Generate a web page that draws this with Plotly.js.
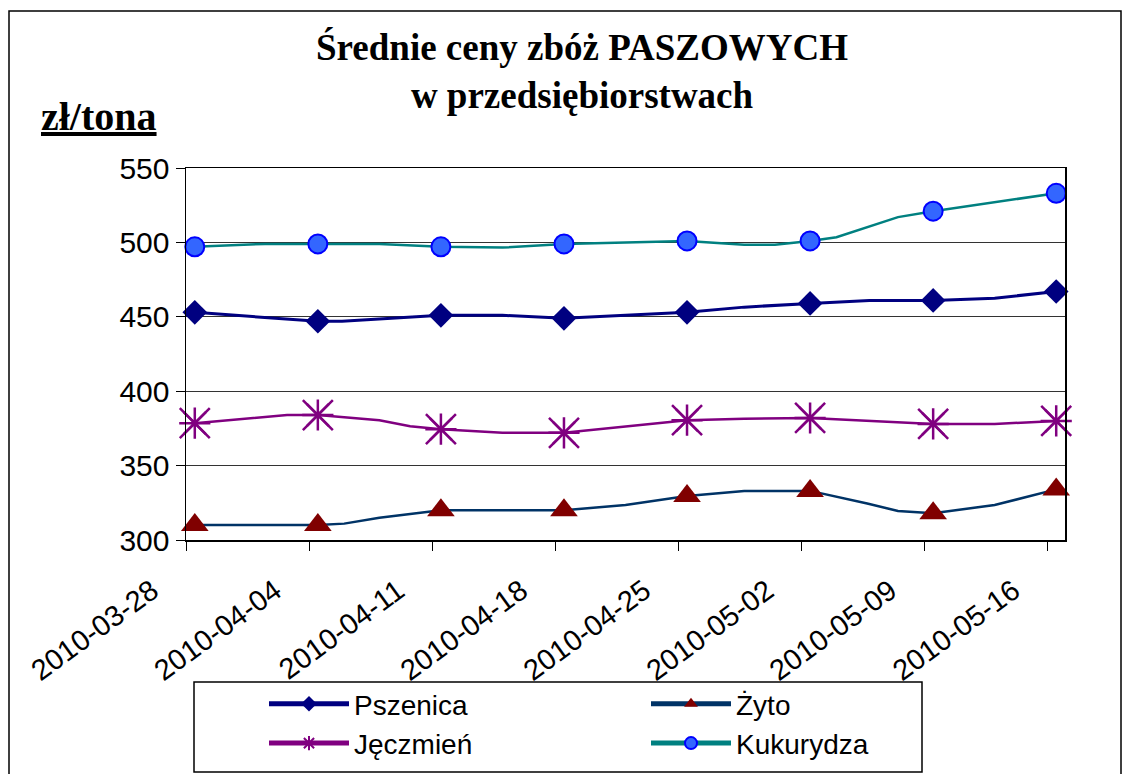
<!DOCTYPE html>
<html>
<head>
<meta charset="utf-8">
<script src="https://cdn.plot.ly/plotly-3.0.1.min.js"></script>
<style>
  html, body { margin: 0; padding: 0; background: #ffffff; }
  #chart { width: 1127px; height: 774px; }
</style>
</head>
<body>
<div id="chart"></div>
<script>
// ---- data ----
const weekDates = ['2010-03-28', '2010-04-04', '2010-04-11', '2010-04-18',
                   '2010-04-25', '2010-05-02', '2010-05-09', '2010-05-16'];
const tickLabels = ['2010-03-28', '2010-04-04', '2010-04-11', '2010-04-18',
                    '2010-04-25', '2010-05-02', '2010-05-09', '2010-05-16'];
const seriesNames = ['Pszenica', 'Żyto', 'Jęczmień', 'Kukurydza'];

const pszenicaDates = ['2010-03-28 12:00', '2010-04-02 18:00', '2010-04-04 12:00', '2010-04-05 21:00',
  '2010-04-11 12:00', '2010-04-15 00:00', '2010-04-18 12:00', '2010-04-25 12:00', '2010-04-28 18:00',
  '2010-05-02 12:00', '2010-05-05 21:00', '2010-05-09 12:00', '2010-05-13 00:00', '2010-05-16 12:00'];
const pszenicaValues = [453, 448.3, 447, 447, 451, 451, 449, 453, 456.5, 459, 461, 461, 462.5, 467];

const zytoDates = ['2010-03-28 12:00', '2010-04-04 12:00', '2010-04-06 00:00', '2010-04-08 00:00',
  '2010-04-11 12:00', '2010-04-18 12:00', '2010-04-22 00:00', '2010-04-25 12:00', '2010-04-28 18:00',
  '2010-05-02 12:00', '2010-05-05 18:00', '2010-05-07 12:00', '2010-05-09 12:00', '2010-05-13 00:00',
  '2010-05-16 12:00'];
const zytoValues = [310, 310, 311, 315, 320, 320, 323.5, 329.5, 333, 333, 324.5, 319.5, 318, 323.5, 334];

const jeczmienDates = ['2010-03-28 12:00', '2010-04-02 18:00', '2010-04-04 12:00', '2010-04-08 00:00',
  '2010-04-09 18:00', '2010-04-11 12:00', '2010-04-15 00:00', '2010-04-18 12:00', '2010-04-25 12:00',
  '2010-04-28 18:00', '2010-05-02 12:00', '2010-05-09 12:00', '2010-05-13 00:00', '2010-05-16 12:00'];
const jeczmienValues = [378.5, 384, 384, 380.5, 376.5, 374.5, 372, 372, 380.5, 381.5, 382, 378, 378, 380];

const kukurydzaDates = ['2010-03-28 12:00', '2010-04-01 12:00', '2010-04-04 12:00', '2010-04-08 00:00',
  '2010-04-11 12:00', '2010-04-15 00:00', '2010-04-18 12:00', '2010-04-25 12:00', '2010-04-28 18:00',
  '2010-04-30 12:00', '2010-05-02 12:00', '2010-05-04 00:00', '2010-05-07 12:00', '2010-05-09 12:00',
  '2010-05-16 12:00'];
const kukurydzaValues = [497, 499, 499, 499, 497, 496.5, 499, 501, 498.5, 498.5, 501, 503.5, 517, 521, 533];

// ---- helpers ----
const isWeekly = d => weekDates.some(w => d === w + ' 12:00');
const sizesFor = (dates, s) => dates.map(d => isWeekly(d) ? s : 0);

const FONT_SANS = 'Liberation Sans, Arial, sans-serif';
const FONT_SERIF = 'Liberation Serif, Times New Roman, serif';

const traces = [
  {
    name: seriesNames[0], x: pszenicaDates, y: pszenicaValues, type: 'scatter', mode: 'lines+markers',
    line: { color: '#000080', width: 3, backoff: 0 },
    marker: { symbol: 'diamond', color: '#000080', opacity: 1, size: sizesFor(pszenicaDates, 19), line: { width: 0 } },
    cliponaxis: false
  },
  {
    name: seriesNames[1], x: zytoDates, y: zytoValues, type: 'scatter', mode: 'lines+markers',
    line: { color: '#003366', width: 2.5, backoff: 0 },
    marker: { symbol: 'triangle-up', color: '#800000', opacity: 1, size: sizesFor(zytoDates, 24), line: { width: 0 } },
    cliponaxis: false
  },
  {
    name: seriesNames[2], x: jeczmienDates, y: jeczmienValues, type: 'scatter', mode: 'lines+markers',
    line: { color: '#800080', width: 2.5, backoff: 0 },
    marker: { symbol: 'asterisk-open', color: '#800080', opacity: 1, size: sizesFor(jeczmienDates, 26), line: { width: 2.5, color: '#800080' } },
    cliponaxis: false
  },
  {
    name: seriesNames[3], x: kukurydzaDates, y: kukurydzaValues, type: 'scatter', mode: 'lines+markers',
    line: { color: '#008080', width: 2.5, backoff: 0 },
    marker: { symbol: 'circle', color: '#3366FF', opacity: 1, size: sizesFor(kukurydzaDates, 19), line: { width: 2, color: '#0000FF' } },
    cliponaxis: false
  },
  {
    name: seriesNames[2], x: jeczmienDates.filter(isWeekly), y: jeczmienValues.filter((v, i) => isWeekly(jeczmienDates[i])),
    type: 'scatter', mode: 'markers', showlegend: false, hoverinfo: 'skip',
    marker: { symbol: 'x-thin-open', color: '#800080', opacity: 1, size: 30, line: { width: 2.5, color: '#800080' } },
    cliponaxis: false
  }
];

const W = 1127, H = 774;
const L = 186, R = 62, T = 168, B = 234;
const pw = W - L - R, ph = H - T - B;
const px = x => (x - L) / pw;
const py = y => (H - B - y) / ph;

const layout = {
  width: W, height: H,
  margin: { l: L, r: R, t: T, b: B, pad: 0 },
  paper_bgcolor: '#ffffff', plot_bgcolor: '#ffffff',
  showlegend: true,
  title: {
    text: 'Średnie ceny zbóż PASZOWYCH<br>w przedsiębiorstwach',
    font: { family: FONT_SERIF, size: 37, color: '#000000', weight: 'bold' },
    x: 582 / W, xanchor: 'center', xref: 'container',
    y: 1 - 60 / H, yanchor: 'top', yref: 'container'
  },
  xaxis: {
    type: 'date',
    range: ['2010-03-28', '2010-05-17'],
    tickmode: 'array', tickvals: weekDates, ticktext: tickLabels,
    tickangle: -36, ticklabelshift: -34, ticklabelstandoff: 12,
    ticks: 'outside', ticklen: 9, tickwidth: 1, tickcolor: '#000000',
    showline: true, linecolor: '#000000', linewidth: 1.5, mirror: true,
    showgrid: false, zeroline: false,
    tickfont: { family: FONT_SANS, size: 29, color: '#000000' }
  },
  yaxis: {
    range: [300, 550], tick0: 300, dtick: 50,
    ticks: 'outside', ticklen: 9, tickwidth: 1, tickcolor: '#000000',
    showline: true, linecolor: '#000000', linewidth: 1.5, mirror: true,
    showgrid: true, gridcolor: '#333333', gridwidth: 1, zeroline: false,
    tickfont: { family: FONT_SANS, size: 30, color: '#000000' }
  },
  legend: {
    orientation: 'h', xref: 'container', yref: 'container',
    x: 264 / W, xanchor: 'left', y: 1 - 679 / H, yanchor: 'top',
    bgcolor: 'rgba(0,0,0,0)', borderwidth: 0,
    itemwidth: 80, entrywidth: 287, entrywidthmode: 'pixels', itemsizing: 'constant',
    font: { family: FONT_SANS, size: 28, color: '#000000' }
  },
  shapes: [
    { type: 'rect', xref: 'paper', yref: 'paper', x0: px(9), x1: px(1121), y0: py(800), y1: py(11),
      line: { color: '#000000', width: 1.5 }, fillcolor: 'rgba(0,0,0,0)', layer: 'below' },
    { type: 'rect', xref: 'paper', yref: 'paper', x0: px(194), x1: px(922), y0: py(772), y1: py(682),
      line: { color: '#000000', width: 1.5 }, fillcolor: 'rgba(0,0,0,0)', layer: 'below' }
  ],
  annotations: [
    { text: 'zł/tona', xref: 'paper', yref: 'paper', x: px(99), y: py(117),
      xanchor: 'center', yanchor: 'middle', showarrow: false,
      font: { family: FONT_SERIF, size: 40, color: '#000000', weight: 'bold', lineposition: 'under' } }
  ]
};

Plotly.newPlot('chart', traces, layout, { displayModeBar: false, staticPlot: true });
</script>
</body>
</html>
